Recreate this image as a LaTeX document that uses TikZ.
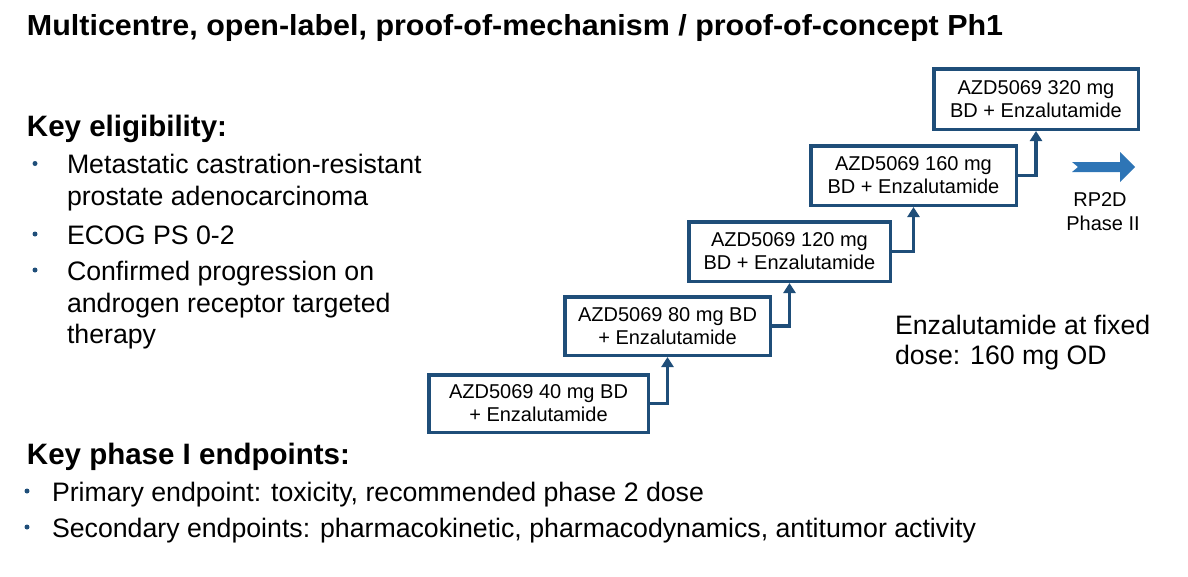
\documentclass[tikz,border=0pt]{standalone}
\usepackage{fontspec}
\setmainfont{Liberation Sans}
\usetikzlibrary{arrows.meta}
\definecolor{navy}{HTML}{1F4E79}
\definecolor{arrowblue}{HTML}{2E75B6}
\newcommand\fsz[1]{\fontsize{#1}{#1}\selectfont}
\begin{document}
\begin{tikzpicture}[x=1pt,y=-1pt,
  txt/.style={anchor=base west, inner sep=0pt, outer sep=0pt},
  titletxt/.style={txt, font=\bfseries\fsz{29}},
  headtxt/.style={txt, font=\bfseries\fsz{29.5}},
  bodytxt/.style={txt, font=\fsz{26.7}},
  dosebox/.style={draw=navy, line width=3.5pt, fill=white, align=center,
     inner sep=0pt, font=\fontsize{20}{23}\selectfont},
  link/.style={navy, line width=3.5pt, -{Triangle[width=12pt,length=10pt]}},
  bul/.style={fill=navy}
]
\useasboundingbox (0,0) rectangle (1188,576);

% title
\node[titletxt] (title) at (27,35) {\scalebox{1.05}[1]{Multicentre, open-label, proof-of-mechanism / proof-of-concept Ph1}};

% key eligibility
\node[headtxt] (kel) at (27,136) {Key eligibility:};
\fill[bul] (35,163.5) circle (2.5);
\node[bodytxt] (e1a) at (67,173.5) {Metastatic castration-resistant};
\node[bodytxt] (e1b) at (67,205) {prostate adenocarcinoma};
\fill[bul] (35,234) circle (2.5);
\node[bodytxt] (e2) at (67,244) {ECOG PS 0-2};
\fill[bul] (35,270) circle (2.5);
\node[bodytxt] (e3a) at (67,280) {Confirmed progression on};
\node[bodytxt] (e3b) at (67,312) {androgen receptor targeted};
\node[bodytxt] (e3c) at (67,343) {therapy};

% endpoints
\node[headtxt] (kep) at (27,464) {Key phase I endpoints:};
\fill[bul] (27,491) circle (2.5);
\node[bodytxt] (p1) at (52,501) {Primary endpoint: toxicity, recommended phase 2 dose};
\fill[bul] (27,527) circle (2.5);
\node[bodytxt] (p2) at (52,537) {Secondary endpoints: pharmacokinetic, pharmacodynamics, antitumor activity};

% dose boxes
\node[dosebox, minimum width=219.5pt, minimum height=57.5pt] (b1) at (538.5,403.5) {AZD5069 40 mg BD\\+ Enzalutamide};
\node[dosebox, minimum width=205.5pt, minimum height=58.5pt] (b2) at (667.5,326) {AZD5069 80 mg BD\\+ Enzalutamide};
\node[dosebox, minimum width=201.5pt, minimum height=59.5pt] (b3) at (789.5,251.5) {AZD5069 120 mg\\BD + Enzalutamide};
\node[dosebox, minimum width=205.5pt, minimum height=59.5pt] (b4) at (913.5,175.5) {AZD5069 160 mg\\BD + Enzalutamide};
\node[dosebox, minimum width=204.5pt, minimum height=60.5pt] (b5) at (1036,99) {AZD5069 320 mg\\BD + Enzalutamide};

\draw[link] (b1.east) -| (b2.south);
\draw[link] (b2.east) -| (b3.south);
\draw[link] (b3.east) -| (b4.south);
\draw[link] (b4.east) -| (b5.south);

% RP2D arrow
\fill[arrowblue] (1072,162) -- (1120,162) -- (1120,152) -- (1135,167) -- (1120,182) -- (1120,172) -- (1072,172) -- (1078,167) -- cycle;
\node[anchor=base, inner sep=0pt, font=\fsz{20}] (rp) at (1100,206.5) {RP2D};
\node[anchor=base, inner sep=0pt, font=\fsz{20}] (ph) at (1103,230) {Phase II};

% fixed dose note
\node[bodytxt] (enz1) at (895,334.5) {Enzalutamide at fixed};
\node[bodytxt] (enz2) at (895,364) {dose: 160 mg OD};
\end{tikzpicture}
\end{document}
